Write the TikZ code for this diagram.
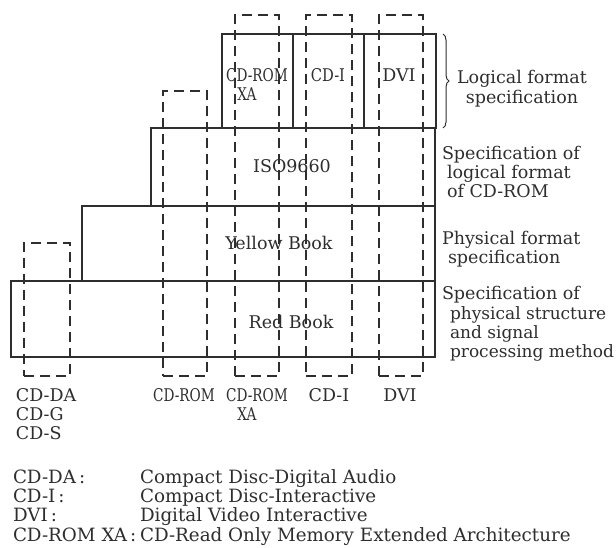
\documentclass[tikz,border=0pt]{standalone}
\usepackage{fontspec}
\setmainfont{DejaVu Serif}
\newfontfamily\condfont[FakeStretch=0.78]{DejaVu Serif}
\newfontfamily\semifont[FakeStretch=0.84]{DejaVu Serif}
\usetikzlibrary{decorations.pathreplacing}
\definecolor{ink}{gray}{0.18}
\tikzset{
  blk/.style={draw=ink, line width=1.8pt, outer sep=0pt, inner sep=0pt, anchor=north west},
  dbox/.style={draw=ink, line width=1.3pt, dash pattern=on 10pt off 6pt, outer sep=0pt, inner sep=0pt, anchor=north west},
  txt/.style={inner sep=0pt, outer sep=0pt, text=ink, font=\fontsize{17.5}{19.5}\selectfont},
  lw/.style={txt, anchor=base west},
  lc/.style={txt, anchor=base},
  key/.style={lw, font=\fontsize{18.3}{20}\selectfont},
  side/.style={lw, font=\fontsize{17}{19}\selectfont},
}
\begin{document}
\begin{tikzpicture}[x=1pt, y=-1pt]
\useasboundingbox (0,0) rectangle (616,547);
\fill[white] (0,0) rectangle (616,547);
% solid layers
\node[blk, minimum width=424, minimum height=76] (red) at (11,281) {};
\node[blk, minimum width=353, minimum height=75] (yellow) at (82,206) {};
\node[blk, minimum width=284, minimum height=78] (iso) at (151,128) {};
\node[blk, minimum width=71, minimum height=94] (xa) at (222,34) {};
\node[blk, minimum width=71, minimum height=94] (cdi) at (293,34) {};
\node[blk, minimum width=72, minimum height=94] (dvi) at (364,34) {};
% dashed application columns
\node[dbox, minimum width=46, minimum height=133] (dda) at (24,243) {};
\node[dbox, minimum width=44, minimum height=285] (drom) at (163,91) {};
\node[dbox, minimum width=44, minimum height=361] (dxa) at (235,15) {};
\node[dbox, minimum width=46, minimum height=361] (dcdi) at (306,15) {};
\node[dbox, minimum width=44, minimum height=361] (ddvi) at (379,15) {};
% texts inside
\node[lc] (tred) at (291,328) {Red Book};
\node[lc] (tyel) at (279,249) {Yellow Book};
\node[lc] (tiso) at (292,172) {ISO9660};
\node[lc] (txa1) at (257,81) {\condfont CD-ROM};
\node[lc] (txa2) at (247,100) {\condfont XA};
\node[lc] (tcdi) at (328,81) {\semifont CD-I};
\node[lc] (tdvi) at (399,81) {DVI};
% brace
\coordinate (bt) at (443,34);
\coordinate (bb) at (443,128);
\draw[ink, line width=1pt, decorate, decoration={brace, amplitude=6pt}] (bt) -- (bb);
% right labels
\node[lc] (r1a) at (522,83) {Logical format};
\node[lc] (r1b) at (522,103) {specification};
\node[lw] (r2a) at (442,159) {Specification of};
\node[lw] (r2b) at (447,178) {logical format};
\node[lw] (r2c) at (447,197) {of CD-ROM};
\node[lw] (r3a) at (442,244) {Physical format};
\node[lw] (r3b) at (448,263) {specification};
\node[lw] (r4a) at (442,299) {Specification of};
\node[side] (r4b) at (450,319) {physical structure};
\node[side] (r4c) at (450,338) {and signal};
\node[side] (r4d) at (450,357) {processing method};
% bottom labels
\node[lw] (b1a) at (16,401) {CD-DA};
\node[lw] (b1b) at (16,420) {CD-G};
\node[lw] (b1c) at (16,439) {CD-S};
\node[lc] (b2) at (184,401) {\condfont CD-ROM};
\node[lc] (b3a) at (257,401) {\condfont CD-ROM};
\node[lc] (b3b) at (247,420) {\condfont XA};
\node[lc] (b4) at (329,401) {CD-I};
\node[lc] (b5) at (400,401) {DVI};
% legend
\node[key] (k1) at (13,483) {CD-DA\,:};
\node[key] (k2) at (13,502) {CD-I\,:};
\node[key] (k3) at (13,521) {DVI\,:};
\node[key] (k4) at (13,541) {CD-ROM XA\,:};
\node[key] (v1) at (140,483) {Compact Disc-Digital Audio};
\node[key] (v2) at (140,502) {Compact Disc-Interactive};
\node[key] (v3) at (140,521) {Digital Video Interactive};
\node[key] (v4) at (140,541) {CD-Read Only Memory Extended Architecture};
\end{tikzpicture}
\end{document}
